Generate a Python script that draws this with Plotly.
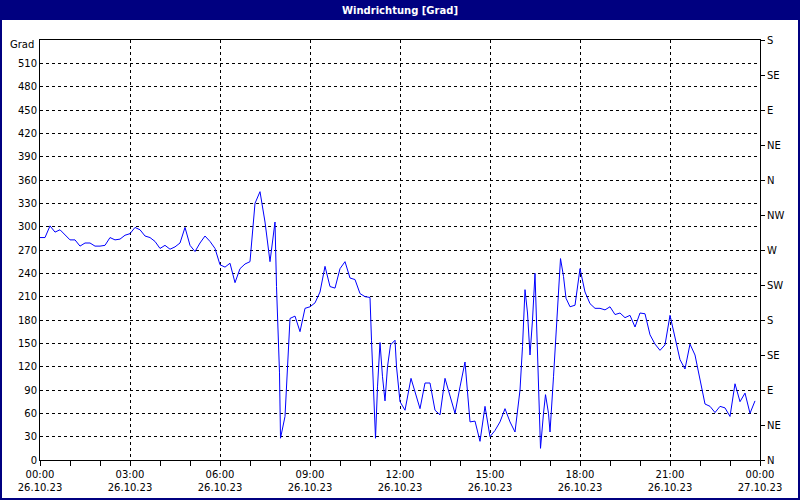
import plotly.graph_objects as go
import pandas as pd

times = ["00:00","00:10","00:20","00:30","00:40","00:50","01:00","01:10","01:20","01:30",
         "01:40","01:50","02:00","02:10","02:20","02:30","02:40","02:50","03:00","03:10",
         "03:20","03:30","03:40","03:50","04:00","04:10","04:20","04:30","04:40","04:50",
         "05:00","05:10","05:20","05:30","05:40","05:50","06:00","06:10","06:20","06:30",
         "06:40","06:50","07:00","07:10","07:20","07:30","07:40","07:50","07:53","07:59",
         "08:01","08:10","08:20","08:30","08:40","08:50","09:00","09:10","09:20","09:30",
         "09:40","09:50","10:00","10:10","10:20","10:30","10:40","10:50","11:00","11:03",
         "11:08","11:11","11:15","11:20","11:25","11:30","11:35","11:41","11:50","11:53",
         "12:00","12:10","12:22","12:30","12:40","12:50","13:00","13:10","13:20","13:30",
         "13:40","13:50","14:00","14:10","14:20","14:30","14:40","14:50","15:00","15:10",
         "15:20","15:30","15:40","15:50","16:00","16:05","16:10","16:15","16:20","16:25",
         "16:30","16:37","16:41","16:47","16:51","16:57","17:00","17:07","17:12","17:17",
         "17:21","17:27","17:32","17:40","17:50","18:00","18:10","18:20","18:30","18:40",
         "18:50","19:00","19:10","19:20","19:30","19:40","19:50","20:00","20:10","20:20",
         "20:30","20:40","20:50","21:00","21:10","21:20","21:30","21:40","21:50","22:00",
         "22:10","22:20","22:30","22:40","22:50","23:00","23:10","23:20","23:30","23:40",
         "23:50"]
values = [286,286,301,293,296,290,283,283,275,279,
          279,275,275,276,286,283,284,289,291,299,
          296,288,286,281,272,276,271,274,279,299,
          276,268,279,288,281,272,251,248,253,228,
          246,252,255,330,345,306,255,306,223,112,
          28,56,182,185,165,195,197,202,216,249,
          223,221,246,255,234,232,214,210,209,154,
          60,28,94,151,107,76,120,148,154,120,
          75,64,105,88,66,99,99,64,58,105,
          84,60,94,126,49,50,24,69,30,38,
          49,66,49,36,90,146,219,189,135,180,
          240,86,15,60,84,60,36,107,167,216,
          259,236,208,197,199,246,216,201,195,195,
          193,197,187,189,183,186,171,189,188,161,
          149,141,148,186,159,129,117,149,135,103,
          72,69,61,69,67,56,98,75,86,60,
          76]

left_ticks = list(range(0, 540, 30))
right_vals = list(range(0, 541, 45))
right_text = ["N","NE","E","SE","S","SW","W","NW","N","NE","E","SE","S"]
x_ticks = ["2023-10-26 00:00","2023-10-26 03:00","2023-10-26 06:00","2023-10-26 09:00",
           "2023-10-26 12:00","2023-10-26 15:00","2023-10-26 18:00","2023-10-26 21:00",
           "2023-10-27 00:00"]
x_text = ["00:00<br>26.10.23","03:00<br>26.10.23","06:00<br>26.10.23","09:00<br>26.10.23",
          "12:00<br>26.10.23","15:00<br>26.10.23","18:00<br>26.10.23","21:00<br>26.10.23",
          "00:00<br>27.10.23"]

x = pd.to_datetime(["2023-10-26 " + t for t in times])

fig = go.Figure()
fig.add_trace(go.Scatter(x=x, y=values, mode="lines",
                         line=dict(color="#0000FF", width=1), showlegend=False))
fig.add_trace(go.Scatter(x=x, y=values, mode="lines", yaxis="y2",
                         line=dict(color="rgba(0,0,0,0)", width=0), showlegend=False,
                         hoverinfo="skip"))

font = dict(family="DejaVu Sans", size=10, color="black")
W, H = 800, 500
L, R, T, B = 40, 40, 40, 40
pw, ph = W - L - R, H - T - B

def px(xp):
    return (xp - L) / pw

def py(yp):
    return (H - B - yp) / ph

fig.update_layout(
    width=W, height=H,
    margin=dict(l=L, r=R, t=T, b=B, autoexpand=False),
    paper_bgcolor="white", plot_bgcolor="white",
    font=font,
    xaxis=dict(
        type="date",
        range=["2023-10-26 00:00", "2023-10-27 00:00"],
        tickmode="array", tickvals=x_ticks, ticktext=x_text,
        ticks="outside", ticklen=5, tickcolor="black",
        showgrid=True, gridcolor="black", griddash="3px,3px", gridwidth=1,
        showline=True, linecolor="black", linewidth=1, mirror=True,
        minor=dict(dtick=3600000, ticks="outside", ticklen=5, tickcolor="black", showgrid=False),
        zeroline=False, tickfont=font, automargin=False,
    ),
    yaxis=dict(
        range=[0, 540],
        tickmode="array", tickvals=left_ticks, ticktext=[str(v) for v in left_ticks],
        ticks="", showgrid=True, gridcolor="black", griddash="3px,3px", gridwidth=1,
        showline=True, linecolor="black", linewidth=1, zeroline=False, tickfont=font,
        automargin=False,
    ),
    yaxis2=dict(
        range=[0, 540], overlaying="y", side="right",
        tickmode="array", tickvals=right_vals, ticktext=right_text,
        ticks="outside", ticklen=4, tickcolor="black",
        showgrid=False, showline=True, linecolor="black", linewidth=1,
        zeroline=False, tickfont=font, automargin=False,
    ),
    shapes=[
        dict(type="rect", xref="paper", yref="paper",
             x0=px(0), x1=px(W), y0=py(20), y1=py(0),
             fillcolor="#000080", line=dict(width=0), layer="above"),
        dict(type="rect", xref="paper", yref="paper",
             x0=px(1), x1=px(W - 1), y0=py(H - 1), y1=py(1),
             fillcolor="rgba(0,0,0,0)", line=dict(color="#000080", width=2), layer="above"),
    ],
    annotations=[
        dict(text="<b>Windrichtung [Grad]</b>", xref="paper", yref="paper",
             x=px(400), y=py(10), showarrow=False,
             font=dict(family="DejaVu Sans", size=10, color="white"),
             xanchor="center", yanchor="middle"),
        dict(text="Grad", xref="paper", yref="paper",
             x=px(36), y=py(45), showarrow=False, font=font,
             xanchor="right", yanchor="middle"),
    ],
)

fig.write_html("out.html",
               config={"displayModeBar": False},
               post_script="document.body.style.margin='0';document.body.style.overflow='hidden';")
